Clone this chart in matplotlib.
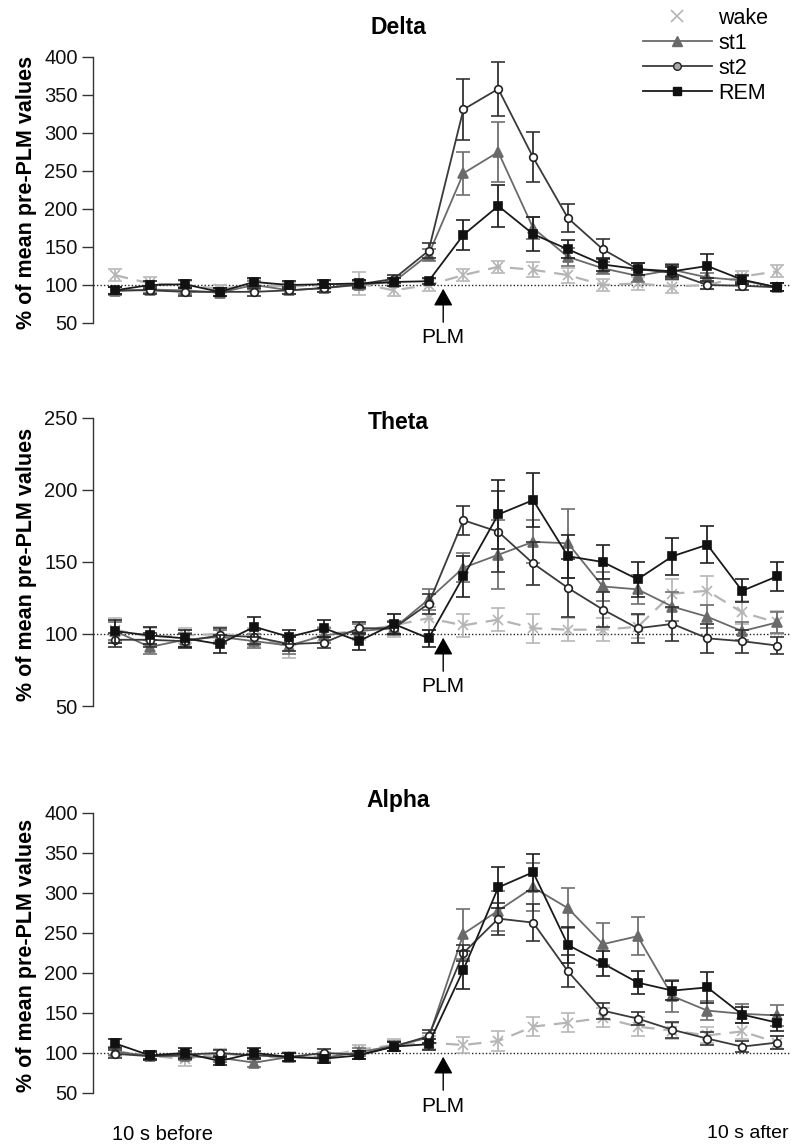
import matplotlib
matplotlib.use("Agg")
import matplotlib.pyplot as plt
from matplotlib.lines import Line2D
import numpy as np

plt.rcParams['font.family'] = ['Liberation Sans', 'DejaVu Sans']

# ---------------- data ----------------
n_points = 20
x = np.arange(n_points)
bands = ["Delta", "Theta", "Alpha"]
series_names = ["wake", "st1", "st2", "REM"]

delta_wake = [113, 102, 100, 95, 100, 98, 100, 102, 93, 100, 113, 124, 120, 113, 100, 102, 98, 100, 111, 118]
delta_st1 = [92, 94, 93, 90, 100, 93, 96, 100, 104, 140, 247, 275, 175, 137, 122, 112, 120, 110, 106, 97]
delta_st2 = [93, 93, 91, 91, 91, 93, 96, 101, 108, 145, 331, 358, 268, 188, 147, 121, 116, 100, 99, 97]
delta_rem = [93, 100, 101, 91, 104, 100, 101, 102, 104, 105, 166, 204, 167, 147, 127, 121, 118, 125, 107, 97]
delta_wake_se = [8, 8, 5, 5, 8, 5, 5, 15, 8, 8, 8, 8, 10, 10, 8, 8, 8, 5, 8, 8]
delta_st1_se = [5, 5, 5, 5, 5, 5, 5, 5, 5, 8, 28, 40, 15, 12, 8, 8, 8, 6, 6, 5]
delta_st2_se = [5, 5, 5, 5, 5, 5, 5, 5, 5, 10, 40, 35, 33, 18, 13, 8, 8, 5, 5, 5]
delta_rem_se = [5, 5, 5, 5, 5, 5, 5, 5, 5, 4, 20, 28, 22, 12, 8, 8, 8, 16, 6, 5]

theta_wake = [103, 98, 99, 100, 98, 91, 100, 102, 106, 111, 106, 110, 104, 103, 103, 105, 128, 130, 115, 108]
theta_st1 = [102, 91, 96, 98, 95, 92, 99, 102, 104, 124, 146, 155, 164, 163, 133, 131, 119, 112, 102, 108]
theta_st2 = [96, 96, 95, 99, 98, 93, 94, 104, 104, 121, 179, 171, 149, 132, 117, 104, 107, 97, 95, 92]
theta_rem = [102, 99, 97, 93, 105, 98, 104, 95, 107, 97, 140, 183, 193, 154, 150, 138, 154, 162, 130, 140]
theta_wake_se = [8, 6, 5, 5, 6, 8, 5, 6, 8, 8, 8, 8, 10, 8, 8, 8, 10, 10, 8, 8]
theta_st1_se = [6, 5, 5, 5, 5, 6, 5, 5, 5, 7, 10, 24, 15, 24, 10, 10, 10, 8, 6, 7]
theta_st2_se = [5, 5, 5, 5, 5, 5, 4, 4, 4, 7, 10, 28, 15, 20, 12, 10, 12, 10, 8, 6]
theta_rem_se = [8, 6, 6, 6, 7, 5, 6, 6, 7, 6, 14, 24, 19, 15, 12, 12, 13, 13, 8, 10]

alpha_wake = [102, 97, 92, 100, 95, 95, 96, 104, 110, 113, 110, 115, 133, 138, 144, 133, 128, 122, 127, 113]
alpha_st1 = [102, 96, 96, 94, 88, 95, 94, 101, 109, 119, 249, 278, 307, 281, 236, 246, 171, 153, 149, 147]
alpha_st2 = [99, 96, 98, 100, 97, 95, 100, 98, 108, 121, 225, 268, 263, 202, 153, 143, 129, 118, 108, 113]
alpha_rem = [112, 97, 100, 90, 100, 95, 93, 97, 108, 111, 204, 307, 326, 235, 212, 188, 178, 182, 148, 138]
alpha_wake_se = [6, 6, 8, 5, 6, 6, 5, 6, 8, 8, 10, 12, 12, 12, 12, 12, 10, 10, 10, 8]
alpha_st1_se = [5, 5, 5, 5, 5, 5, 5, 5, 6, 6, 31, 25, 30, 25, 26, 24, 20, 12, 12, 13]
alpha_st2_se = [5, 5, 5, 4, 5, 5, 5, 5, 6, 8, 10, 20, 23, 20, 10, 8, 10, 8, 7, 8]
alpha_rem_se = [6, 5, 6, 5, 6, 5, 5, 5, 6, 7, 24, 26, 23, 23, 16, 14, 12, 19, 10, 10]

band_data = {
    "Delta": [(delta_wake, delta_wake_se), (delta_st1, delta_st1_se),
              (delta_st2, delta_st2_se), (delta_rem, delta_rem_se)],
    "Theta": [(theta_wake, theta_wake_se), (theta_st1, theta_st1_se),
              (theta_st2, theta_st2_se), (theta_rem, theta_rem_se)],
    "Alpha": [(alpha_wake, alpha_wake_se), (alpha_st1, alpha_st1_se),
              (alpha_st2, alpha_st2_se), (alpha_rem, alpha_rem_se)],
}
y_ranges = {"Delta": (50, 400), "Theta": (50, 250), "Alpha": (50, 400)}
y_ticks = {"Delta": [50, 100, 150, 200, 250, 300, 350, 400],
           "Theta": [50, 100, 150, 200, 250],
           "Alpha": [50, 100, 150, 200, 250, 300, 350, 400]}
plm_position = 9.42

# ---------------- styles ----------------
styles = {
    "wake": dict(color="#b4b4b4", marker="x", ms=7, mfc="none", mec="#b4b4b4",
                 ls=(0, (6, 4)), lw=1.6, ecolor="#b8b8b8"),
    "st1": dict(color="#6a6a6a", marker="^", ms=6.5, mfc="#6a6a6a", mec="#6a6a6a",
                ls="-", lw=1.3, ecolor="#707070"),
    "st2": dict(color="#3a3a3a", marker="o", ms=5.5, mfc="white", mec="#222222",
                ls="-", lw=1.3, ecolor="#333333"),
    "REM": dict(color="#1a1a1a", marker="s", ms=6, mfc="#111111", mec="#111111",
                ls="-", lw=1.3, ecolor="#222222"),
}

W, H = 791, 1144
fig = plt.figure(figsize=(W / 100, H / 100), dpi=100)

# axes pixel geometry: (top px, bottom px)
panel_px = {"Delta": (57, 323), "Theta": (418, 706), "Alpha": (813, 1093)}
left_px = 93
first_px, last_px = 115, 777
step = (last_px - first_px) / (n_points - 1)
xmin = -(first_px - left_px) / step
xmax = (n_points - 1) + (W - last_px) / step

title_px = {"Delta": 27, "Theta": 422, "Alpha": 800}

for band in bands:
    top, bot = panel_px[band]
    ax = fig.add_axes([left_px / W, 1 - bot / H, (W - left_px) / W, (bot - top) / H])
    ax.set_xlim(xmin, xmax)
    ax.set_ylim(*y_ranges[band])
    for sp in ["top", "right", "bottom"]:
        ax.spines[sp].set_visible(False)
    ax.spines["left"].set_color("#333333")
    ax.spines["left"].set_linewidth(1.0)
    ax.set_xticks([])
    ax.set_yticks(y_ticks[band])
    ax.tick_params(axis="y", length=8, width=1.0, color="#333333",
                   labelsize=14.5, pad=3, labelcolor="#111111")
    ax.axhline(100, color="#222222", ls=(0, (1, 1.5)), lw=1.0, zorder=1)
    ax.set_ylabel("% of mean pre-PLM values", fontsize=15.5, fontweight="bold")
    ax.yaxis.set_label_coords(-(left_px - 37) / (W - left_px), 0.49)

    for name, (vals, se) in zip(series_names, band_data[band]):
        st = styles[name]
        z = {"wake": 2, "st1": 3, "st2": 4, "REM": 5}[name]
        ax.errorbar(x, vals, yerr=se, color=st["color"], ls=st["ls"], lw=st["lw"],
                    marker=st["marker"], ms=st["ms"], mfc=st["mfc"], mec=st["mec"],
                    mew=1.2, ecolor=st["ecolor"], elinewidth=1.3, capsize=5,
                    capthick=1.3, zorder=z, clip_on=False)

    # PLM arrow
    ppu = (bot - top) / (y_ranges[band][1] - y_ranges[band][0])
    tip_val = 100 - 1 / ppu
    tail_val = 100 - 40 / ppu
    text_val = 100 - 53 / ppu
    ax.annotate("", xy=(plm_position, tip_val), xytext=(plm_position, tail_val),
                arrowprops=dict(arrowstyle="-|>,head_length=0.75,head_width=0.42",
                                mutation_scale=14, color="black", lw=1.0),
                annotation_clip=False)
    ax.text(plm_position, text_val, "PLM", ha="center", va="center",
            fontsize=15, clip_on=False)

    fig.text(398 / W, 1 - title_px[band] / H, band, ha="center", va="center",
             fontsize=16.5, fontweight="bold")

fig.text(162 / W, 1 - 1134 / H, "10 s before", ha="center", va="center", fontsize=14.5)
fig.text(789 / W, 1 - 1134 / H, "10 s after", ha="right", va="center", fontsize=14)

# legend
handles = []
for name in series_names:
    st = styles[name]
    if name == "wake":
        h = Line2D([], [], ls="none", marker="x", ms=8, mec="#b4b4b4", mew=1.2)
    else:
        h = Line2D([], [], color=st["color"], ls="-", lw=1.3, marker=st["marker"],
                   ms=st["ms"], mfc=st["mfc"] if name != "st2" else "#aaaaaa",
                   mec=st["mec"])
    handles.append(h)
fig.legend(handles, series_names, loc="upper left",
           bbox_to_anchor=(643 / W, 1 - 8 / H), frameon=False, fontsize=15.5,
           handlelength=3.2, handletextpad=0.3, labelspacing=0.18,
           borderaxespad=0, borderpad=0)

fig.savefig("out.png", dpi=100)
